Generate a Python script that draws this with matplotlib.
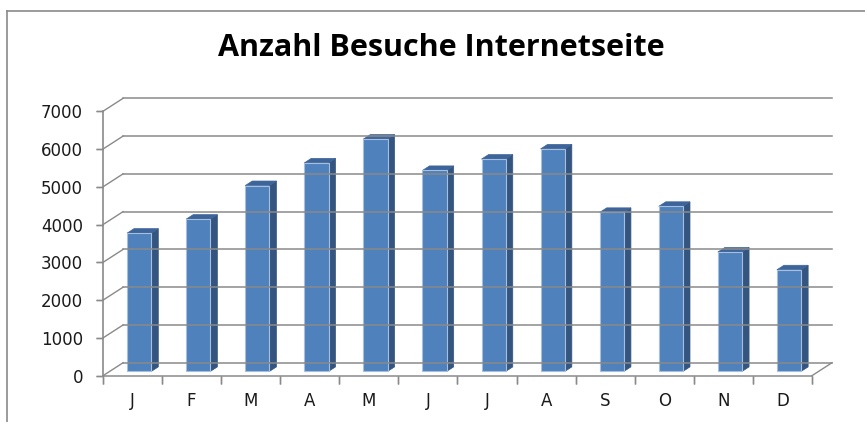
import numpy as np
from matplotlib import pyplot as plt
from matplotlib.patches import Polygon, Rectangle
from matplotlib.lines import Line2D

months = ["J", "F", "M", "A", "M", "J", "J", "A", "S", "O", "N", "D"]
visits = [3660, 4030, 4920, 5520, 6150, 5320, 5620, 5890, 4210, 4370, 3160, 2690]
y_ticks = [0, 1000, 2000, 3000, 4000, 5000, 6000, 7000]
title = "Anzahl Besuche Internetseite"

# oblique "3d" look: depth shift of the back wall in data units
DX = 0.34
DY = 343
f0, f1 = 0.33, 0.68   # bar front / back depth
bar_w = 0.41

face = "#4f81bd"
side = "#34557f"
top = "#3d659a"
grid_c = "#8a8a8a"

fig = plt.figure(figsize=(8.65, 4.22), dpi=100)
W, H = 865, 422
x0, x1 = 103, 832
y0, y1 = 375.7, 98.3
ax = fig.add_axes([x0 / W, (H - y0) / H, (x1 - x0) / W, (y0 - y1) / H])
ax.set_xlim(-0.5, len(months) - 0.5 + DX)
ax.set_ylim(0, y_ticks[-1] + DY)
ax.set_axis_off()

xl, xr = -0.5, len(months) - 0.5

# back wall gridlines + left wall diagonals
for v in y_ticks:
    ax.plot([xl + DX, xr + DX], [v + DY, v + DY], color=grid_c, lw=1.1, clip_on=False)
    ax.plot([xl, xl + DX], [v, v + DY], color=grid_c, lw=1.0, clip_on=False)
    ax.plot([xl, xl], [v, v], marker=0, markersize=5, color=grid_c, mew=1.0, clip_on=False)
    ax.annotate(str(v), xy=(xl, v), xytext=(-20, -2), textcoords="offset pixels",
                ha="right", va="center", fontsize=12, color="#1a1a1a")

# front axes
ax.plot([xl, xl], [0, y_ticks[-1]], color=grid_c, lw=1.2, clip_on=False)
ax.plot([xl, xr], [0, 0], color=grid_c, lw=1.1, clip_on=False)
ax.plot([xr, xr + DX], [0, DY], color=grid_c, lw=1.0, clip_on=False)
for b in np.arange(len(months) + 1) - 0.5:
    ax.plot([b, b], [0, 0], marker=3, markersize=6, color=grid_c, mew=1.0, clip_on=False)

# bars
for i, (m, v) in enumerate(zip(months, visits)):
    bx = i - bar_w / 2 + f0 * DX
    by = f0 * DY
    d_x = (f1 - f0) * DX
    d_y = (f1 - f0) * DY
    ax.add_patch(Polygon([(bx + bar_w, by), (bx + bar_w + d_x, by + d_y),
                          (bx + bar_w + d_x, by + v + d_y), (bx + bar_w, by + v)],
                         closed=True, fc=side, ec=side, lw=0.5, clip_on=False))
    ax.add_patch(Polygon([(bx, by + v), (bx + bar_w, by + v),
                          (bx + bar_w + d_x, by + v + d_y), (bx + d_x, by + v + d_y)],
                         closed=True, fc=top, ec=top, lw=0.5, clip_on=False))
    ax.add_patch(Rectangle((bx, by), bar_w, v, fc=face, ec="#a7bfdf", lw=0.8, clip_on=False))
    ax.annotate(m, xy=(i, 0), xytext=(0, -25), textcoords="offset pixels",
                ha="center", va="center", fontsize=12, color="#1a1a1a")

fig.text(441 / W, 1 - 48 / H, title, ha="center", va="center", fontsize=22,
         fontweight="bold", family="Open Sans", color="black")

# chart area frame (partly cut off in the reference)
fig.add_artist(Line2D([7.5 / W, 7.5 / W], [0, 1 - 10.5 / H], color=grid_c, lw=1.2))
fig.add_artist(Line2D([7.5 / W, 1], [1 - 10.5 / H, 1 - 10.5 / H], color=grid_c, lw=1.2))

fig.savefig("out.png", dpi=100)
